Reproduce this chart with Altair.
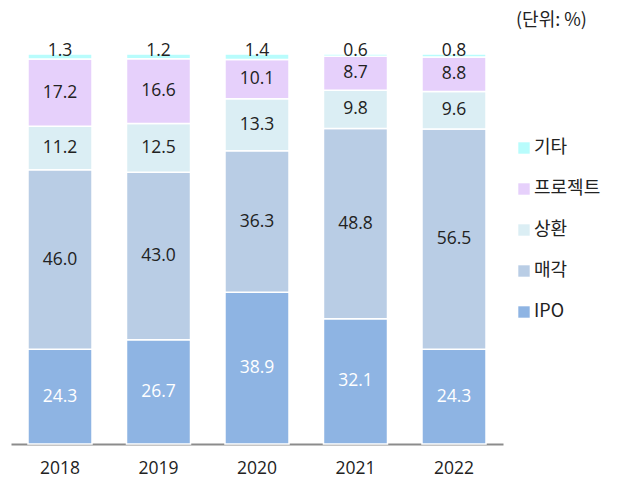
import altair as alt
import pandas as pd

years = ["2018", "2019", "2020", "2021", "2022"]
categories = ["IPO", "매각", "상환", "프로젝트", "기타"]
ipo = [24.3, 26.7, 38.9, 32.1, 24.3]
sale = [46.0, 43.0, 36.3, 48.8, 56.5]
repay = [11.2, 12.5, 13.3, 9.8, 9.6]
project = [17.2, 16.6, 10.1, 8.7, 8.8]
other = [1.3, 1.2, 1.4, 0.6, 0.8]
colors = ["#8EB4E3", "#B9CDE5", "#DBEEF4", "#E6D0FB", "#B8FCFC"]
unit_text = ["(단위: %)"]

series = [ipo, sale, repay, project, other]
rows = []
for ci, (cat, vals) in enumerate(zip(categories, series)):
    for y, v in zip(years, vals):
        rows.append({"year": y, "cat": cat, "order": ci, "value": v,
                     "label": f"{v:.1f}"})
df = pd.DataFrame(rows)

KR = "Noto Sans CJK KR"
NUM = "Open Sans"

base = alt.Chart(df).transform_stack(
    stack="value", groupby=["year"], as_=["y0", "y1"],
    sort=[alt.SortField("order", order="ascending")]
).transform_calculate(mid="(datum.y0 + datum.y1) / 2")

x_enc = alt.X("year:N", sort=years, title=None,
              scale=alt.Scale(paddingInner=0.35, paddingOuter=0.1725),
              axis=alt.Axis(labelAngle=0, labelFont=NUM, labelFontSize=17.5,
                            labelColor="#222222", ticks=False, labelPadding=15,
                            domainColor="#8C8C8C", domainWidth=2, grid=False))
y_scale = alt.Scale(domain=[0, 100], nice=False, zero=True)

bars = base.mark_bar(stroke="white", strokeWidth=1.5).encode(
    x=x_enc,
    y=alt.Y("y0:Q", scale=y_scale, axis=None),
    y2="y1:Q",
    color=alt.Color("cat:N", sort=categories[::-1],
                    scale=alt.Scale(domain=categories[::-1], range=colors[::-1]),
                    legend=alt.Legend(title=None, orient="none", legendX=504,
                                      legendY=85, labelFont=KR, labelFontSize=18,
                                      labelColor="#222222", symbolType="square",
                                      symbolSize=130, symbolStrokeWidth=0,
                                      rowPadding=23, labelOffset=1)),
    order=alt.Order("order:Q"),
)

inner = base.transform_filter("datum.cat != '기타'").mark_text(
    font=NUM, fontSize=17.5, baseline="middle"
).encode(
    x=alt.X("year:N", sort=years),
    y=alt.Y("mid:Q", scale=y_scale),
    text="label:N",
    color=alt.condition("datum.cat == 'IPO'", alt.value("white"), alt.value("#222222")),
)

top = base.transform_filter("datum.cat == '기타'").mark_text(
    font=NUM, fontSize=17.5, baseline="alphabetic", dy=2, color="#222222"
).encode(
    x=alt.X("year:N", sort=years),
    y=alt.Y("y1:Q", scale=y_scale),
    text="label:N",
)

unit = alt.Chart(pd.DataFrame({"t": unit_text})).mark_text(
    font=KR, fontSize=18, align="left", baseline="middle", color="#222222"
).encode(x=alt.value(505), y=alt.value(-33), text="t:N")

chart = alt.layer(bars, inner, top, unit).properties(
    width=492, height=390,
    padding={"left": 3, "top": 46, "right": 108, "bottom": 38},
    autosize=alt.AutoSizeParams(type="none"),
).configure_view(stroke=None)

chart.save("out.html", embed_options={"renderer": "svg", "actions": False})
